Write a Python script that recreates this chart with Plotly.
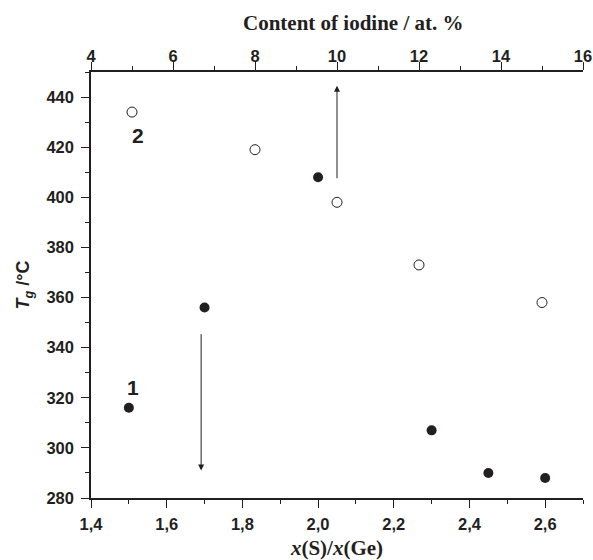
import plotly.graph_objects as go

# Series 1: Tg vs x(S)/x(Ge)  (filled circles, bottom axis)
ratio_s_ge = [1.5, 1.7, 2.0, 2.3, 2.45, 2.6]
tg_series1 = [316, 356, 408, 307, 290, 288]

# Series 2: Tg vs iodine content (open circles, top axis)
iodine_at = [5, 8, 10, 12, 15]
tg_series2 = [434, 419, 398, 373, 358]

# Arrows (x, y_from, y_to)
arrow1 = [1.691, 346, 291]      # bottom axis, pointing down
arrow2 = [10.0, 407, 444.5]     # top axis, pointing up

# Series labels
label1 = ["1", 1.511, 324]
label2 = ["2", 1.524, 424.5]

INK = "#231f20"
SANS = "Liberation Sans, Arial, sans-serif"
SERIF = "Liberation Serif, Times New Roman, serif"

fig = go.Figure()
fig.add_trace(go.Scatter(
    x=ratio_s_ge, y=tg_series1, mode="markers", xaxis="x", yaxis="y",
    marker=dict(size=10, color=INK, line=dict(width=0)), showlegend=False))
fig.add_trace(go.Scatter(
    x=iodine_at, y=tg_series2, mode="markers", xaxis="x2", yaxis="y",
    marker=dict(size=10, color="white", line=dict(width=1, color=INK)), showlegend=False))

fig.add_annotation(x=arrow1[0], y=arrow1[2], ax=arrow1[0], ay=arrow1[1],
                   xref="x", yref="y", axref="x", ayref="y", text="",
                   showarrow=True, arrowhead=2, arrowsize=1.2, arrowwidth=1, arrowcolor=INK)
fig.add_annotation(x=arrow2[0], y=arrow2[2], ax=arrow2[0], ay=arrow2[1],
                   xref="x2", yref="y", axref="x2", ayref="y", text="",
                   showarrow=True, arrowhead=2, arrowsize=1.2, arrowwidth=1, arrowcolor=INK)
for lab in (label1, label2):
    fig.add_annotation(x=lab[1], y=lab[2], xref="x", yref="y", text="<b>%s</b>" % lab[0],
                       showarrow=False, font=dict(family=SANS, size=21, color=INK))

# top axis title
fig.add_annotation(x=0.5335, y=1.1157, xref="paper", yref="paper",
                   text="<b>Content of iodine / at. %</b>", showarrow=False,
                   xanchor="center", yanchor="middle",
                   font=dict(family=SERIF, size=21, color=INK))

tickfont = dict(family=SANS, size=16.5, color=INK, weight="bold")
common = dict(showline=True, linecolor=INK, linewidth=1.5, ticks="outside",
              tickcolor=INK, tickwidth=1.3, ticklen=8, showgrid=False, zeroline=False,
              tickfont=tickfont, automargin=False)

fig.update_layout(
    width=593, height=560,
    margin=dict(l=91, r=10, t=72, b=62),
    plot_bgcolor="white", paper_bgcolor="white",
    separators=",.",
    xaxis=dict(range=[1.4, 2.7], dtick=0.2, tick0=1.4, tickformat=".1f",
               ticklabelstandoff=2,
               minor=dict(dtick=0.1, ticklen=4, tickcolor=INK, tickwidth=1.3, showgrid=False),
               title=dict(text="<b><i>x</i>(S)/<i>x</i>(Ge)</b>", standoff=12,
                          font=dict(family=SERIF, size=21, color=INK)),
               **common),
    xaxis2=dict(range=[4, 16], dtick=2, tick0=4, overlaying="x", side="top",
                ticklabelstandoff=-6,
                minor=dict(dtick=1, ticklen=4, tickcolor=INK, tickwidth=1.3, showgrid=False),
                **common),
    yaxis=dict(range=[280, 450], dtick=20, tick0=280, ticklabelstandoff=4,
               minor=dict(dtick=10, ticklen=4, tickcolor=INK, tickwidth=1.3, showgrid=False),
               title=dict(text="<b><i>T</i><sub><i>g</i></sub> /°C</b>", standoff=12,
                          font=dict(family=SANS, size=18, color=INK)),
               **common),
)

fig.write_html("out.html", config={"displayModeBar": False},
               post_script="document.body.style.margin='0';document.body.style.overflow='hidden';")
